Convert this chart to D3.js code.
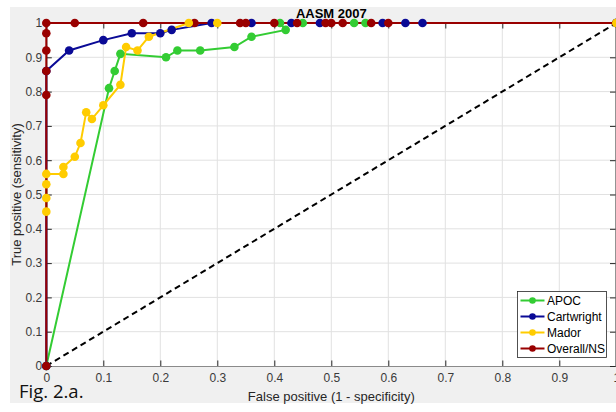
<!DOCTYPE html>
<meta charset="utf-8">
<style>
  body { margin: 0; background: #fff; }
  text { font-family: "Liberation Sans", Arial, sans-serif; }
</style>
<body>
<script src="https://d3js.org/d3.v7.min.js"></script>
<script>
  // series, [false positive, true positive]
  var seriesNames = ["APOC", "Cartwright", "Mador", "Overall/NS"];
  var seriesColors = ["#33cc33", "#0a0a96", "#ffcc00", "#990000"];

  var apoc = [[0, 0], [0.11, 0.81], [0.12, 0.86], [0.13, 0.91], [0.21, 0.90], [0.23, 0.92],
    [0.27, 0.92], [0.33, 0.93], [0.36, 0.96], [0.42, 0.98], [0.41, 1], [0.45, 1],
    [0.54, 1], [0.56, 1], [1, 1]];
  var cartwright = [[0, 0], [0, 0.86], [0.04, 0.92], [0.10, 0.95], [0.15, 0.97], [0.20, 0.97],
    [0.22, 0.98], [0.29, 1], [0.36, 1], [0.43, 1], [0.48, 1], [0.59, 1], [0.63, 1],
    [0.66, 1], [1, 1]];
  var mador = [[0, 0.45], [0, 0.49], [0, 0.53], [0, 0.56], [0.03, 0.56], [0.03, 0.58],
    [0.05, 0.61], [0.06, 0.65], [0.07, 0.74], [0.08, 0.72], [0.10, 0.76], [0.13, 0.82],
    [0.14, 0.93], [0.16, 0.92], [0.18, 0.96], [0.25, 1], [0.30, 1], [1, 1]];
  var overall = [[0, 0], [0, 0.79], [0, 0.86], [0, 0.92], [0, 0.97], [0, 1], [0.05, 1],
    [0.17, 1], [0.26, 1], [0.34, 1], [0.35, 1], [0.40, 1], [0.44, 1], [0.49, 1],
    [0.50, 1], [0.52, 1], [0.57, 1], [0.60, 1], [1, 1]];
  var seriesData = [apoc, cartwright, mador, overall];
  var lineOrder = [0, 1, 2, 3];
  var markerOrder = [0, 1, 3, 2];

  var chance = [[0, 0], [1, 1]];
  var ticks = [0, 0.1, 0.2, 0.3, 0.4, 0.5, 0.6, 0.7, 0.8, 0.9, 1];

  var W = 616, H = 412;
  var plot = { left: 46.3, top: 23, right: 616.3, bottom: 366 };

  var svg = d3.select("body").append("svg")
    .attr("width", W).attr("height", H);

  // figure background
  svg.append("rect").attr("x", 10).attr("y", 7)
    .attr("width", W - 10).attr("height", 396).attr("fill", "#f0f0f0");

  var x = d3.scaleLinear().domain([0, 1]).range([plot.left, plot.right]);
  var y = d3.scaleLinear().domain([0, 1]).range([plot.bottom, plot.top]);

  svg.append("rect")
    .attr("x", plot.left).attr("y", plot.top)
    .attr("width", plot.right - plot.left).attr("height", plot.bottom - plot.top)
    .attr("fill", "#fff");

  // grid
  var grid = svg.append("g").attr("stroke", "#e1e1e1").attr("stroke-width", 1);
  grid.selectAll(".gx").data(ticks.slice(1, -1)).enter().append("line")
    .attr("x1", x).attr("x2", x).attr("y1", plot.top).attr("y2", plot.bottom);
  grid.selectAll(".gy").data(ticks.slice(1, -1)).enter().append("line")
    .attr("y1", y).attr("y2", y).attr("x1", plot.left).attr("x2", plot.right);

  // axes, ticks inside like matlab
  var tl = 5.5;
  var xAxis = svg.append("g")
    .attr("transform", "translate(0," + plot.bottom + ")")
    .call(d3.axisBottom(x).tickValues(ticks).tickFormat(d3.format("")).tickSizeInner(-tl).tickSizeOuter(0).tickPadding(7));
  var xTop = svg.append("g")
    .attr("transform", "translate(0," + plot.top + ")")
    .call(d3.axisTop(x).tickValues(ticks).tickFormat("").tickSizeInner(-tl).tickSizeOuter(0));
  var yAxis = svg.append("g")
    .attr("transform", "translate(" + plot.left + ",0)")
    .call(d3.axisLeft(y).tickValues(ticks).tickFormat(d3.format("")).tickSizeInner(-tl).tickSizeOuter(0).tickPadding(4));
  var yRight = svg.append("g")
    .attr("transform", "translate(" + (plot.right - 0.8) + ",0)")
    .call(d3.axisRight(y).tickValues(ticks).tickFormat("").tickSizeInner(-tl).tickSizeOuter(0));
  [xAxis, xTop, yAxis, yRight].forEach(function(a) {
    a.selectAll("path").attr("stroke", "#262626");
    a.selectAll("line").attr("stroke", "#262626");
    a.selectAll("text").attr("fill", "#3a3a3a").style("font-size", "12px")
      .style("font-family", "'Liberation Sans', Arial, sans-serif");
  });
  xAxis.select("path").attr("stroke", "#8a8a8a");

  // diagonal
  svg.append("path").datum(chance)
    .attr("d", d3.line().x(function(d) { return x(d[0]); }).y(function(d) { return y(d[1]); }))
    .attr("stroke", "#000").attr("stroke-width", 2).attr("stroke-dasharray", "6,4")
    .attr("fill", "none");

  var line = d3.line().x(function(d) { return x(d[0]); }).y(function(d) { return y(d[1]); });

  // all lines first, then markers
  lineOrder.forEach(function(i) {
    svg.append("path").datum(seriesData[i])
      .attr("d", line).attr("fill", "none")
      .attr("stroke", seriesColors[i]).attr("stroke-width", 2);
  });
  markerOrder.forEach(function(i) {
    svg.append("g").selectAll("circle").data(seriesData[i]).enter().append("circle")
      .attr("cx", function(d) { return x(d[0]); })
      .attr("cy", function(d) { return y(d[1]); })
      .attr("r", 4.3).attr("fill", seriesColors[i]);
  });

  // title and labels
  svg.append("text").attr("x", (plot.left + plot.right) / 2).attr("y", 17.5)
    .attr("text-anchor", "middle").attr("font-weight", "bold").attr("font-size", 13)
    .attr("fill", "#000").text("AASM 2007");
  svg.append("text").attr("x", (plot.left + plot.right) / 2).attr("y", 401)
    .attr("text-anchor", "middle").attr("font-size", 13).attr("fill", "#262626")
    .text("False positive (1 - specificity)");
  svg.append("text")
    .attr("transform", "translate(21," + ((plot.top + plot.bottom) / 2) + ") rotate(-90)")
    .attr("text-anchor", "middle").attr("font-size", 13).attr("fill", "#262626")
    .text("True positive (sensitivity)");
  svg.append("text").attr("x", 19).attr("y", 397.5)
    .style("font-family", "'Open Sans', 'Noto Sans', sans-serif")
    .attr("font-size", 18.5).attr("fill", "#111").text("Fig. 2.a.");

  // legend
  var lg = svg.append("g").attr("transform", "translate(517.5,291.5)");
  lg.append("rect").attr("width", 89).attr("height", 66)
    .attr("fill", "#fff").attr("stroke", "#262626").attr("stroke-width", 0.8);
  seriesNames.forEach(function(name, i) {
    var row = lg.append("g").attr("transform", "translate(0," + (9 + i * 16) + ")");
    row.append("line").attr("x1", 3).attr("x2", 27).attr("y1", 0).attr("y2", 0)
      .attr("stroke", seriesColors[i]).attr("stroke-width", 2);
    row.append("circle").attr("cx", 15).attr("cy", 0).attr("r", 3.3).attr("fill", seriesColors[i]);
    row.append("text").attr("x", 29.5).attr("y", 4.5).attr("font-size", 12)
      .attr("fill", "#000").text(name);
  });
</script>
</body>
